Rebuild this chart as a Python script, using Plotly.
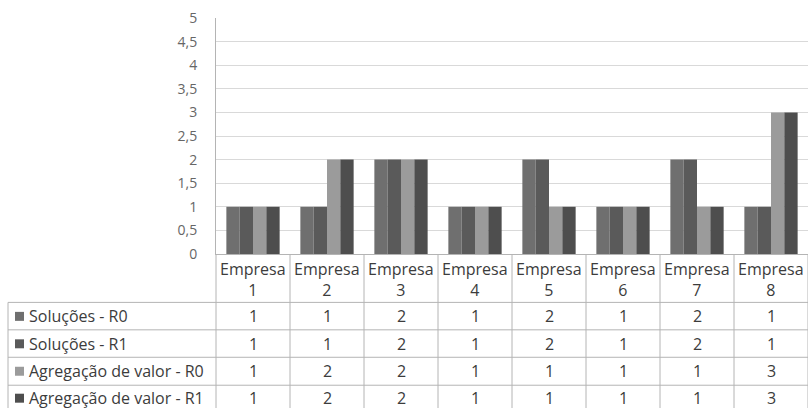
import plotly.graph_objects as go

# Companies and scores per indicator
categorias = ["Empresa<br>1", "Empresa<br>2", "Empresa<br>3", "Empresa<br>4",
              "Empresa<br>5", "Empresa<br>6", "Empresa<br>7", "Empresa<br>8"]
series_nomes = ["Soluções - R0", "Soluções - R1",
                "Agregação de valor - R0", "Agregação de valor - R1"]
solucoes_r0 = [1, 1, 2, 1, 2, 1, 2, 1]
solucoes_r1 = [1, 1, 2, 1, 2, 1, 2, 1]
agregacao_r0 = [1, 2, 2, 1, 1, 1, 1, 3]
agregacao_r1 = [1, 2, 2, 1, 1, 1, 1, 3]
cores = ["#6f6f6f", "#5a5a5a", "#9b9b9b", "#4e4e4e"]

valores = [solucoes_r0, solucoes_r1, agregacao_r0, agregacao_r1]

W, H = 808, 408
# plot area in pixels
L, R, T, B = 216, 808, 17.5, 254
PW, PH = R - L, B - T


def px(x):
    return (x - L) / PW


def py(y):
    return (B - y) / PH


FONT = "Open Sans"
TXT = "#3c3c3c"
LINE = "#b4b4b4"

fig = go.Figure()
idx = list(range(len(categorias)))
for nome, vals, cor in zip(series_nomes, valores, cores):
    fig.add_trace(go.Bar(x=idx, y=vals, name=nome, marker_color=cor,
                         marker_line_width=0, showlegend=False))

shapes = []
annotations = []

# data table grid
row_lines = [302.5, 330, 357.5, 385.5]
for yl in row_lines:
    shapes.append(dict(type="line", xref="paper", yref="paper",
                       x0=px(8), x1=px(808), y0=py(yl), y1=py(yl),
                       line=dict(color=LINE, width=1)))
shapes.append(dict(type="line", xref="paper", yref="paper",
                   x0=px(8), x1=px(8), y0=py(302.5), y1=py(410),
                   line=dict(color=LINE, width=1)))
for i in range(len(categorias) + 1):
    xb = L + i * PW / len(categorias)
    shapes.append(dict(type="line", xref="paper", yref="paper",
                       x0=px(xb), x1=px(xb), y0=py(B), y1=py(410),
                       line=dict(color=LINE, width=1)))

# header labels
for i, c in enumerate(categorias):
    annotations.append(dict(x=i, y=py(279.5), xref="x", yref="paper", text=c,
                            showarrow=False, xanchor="center", yanchor="middle",
                            font=dict(family=FONT, size=16, color=TXT)))

# rows: legend key, label and values
row_centers = [316.5, 344, 371.5, 398.5]
for r, (nome, vals, cor) in enumerate(zip(series_nomes, valores, cores)):
    yc = row_centers[r]
    shapes.append(dict(type="rect", xref="paper", yref="paper",
                       x0=px(15), x1=px(24), y0=py(yc - 4.5), y1=py(yc + 4.5),
                       fillcolor=cor, line=dict(width=0)))
    annotations.append(dict(x=px(27), y=py(yc), xref="paper", yref="paper",
                            text=nome, showarrow=False, xanchor="left",
                            yanchor="middle",
                            font=dict(family=FONT, size=16, color=TXT)))
    for i, v in enumerate(vals):
        annotations.append(dict(x=i, y=py(yc), xref="x", yref="paper",
                                text=str(v), showarrow=False, xanchor="center",
                                yanchor="middle",
                                font=dict(family=FONT, size=16, color=TXT)))

fig.update_layout(
    width=W, height=H,
    margin=dict(l=L, r=W - R, t=T, b=H - B, pad=0),
    paper_bgcolor="white", plot_bgcolor="white",
    barmode="group", bargap=0.28, bargroupgap=0,
    separators=",.",
    shapes=shapes, annotations=annotations,
    xaxis=dict(range=[-0.5, 7.5], showticklabels=False, showgrid=False,
               zeroline=False, showline=True, linecolor=LINE, linewidth=1,
               fixedrange=True),
    yaxis=dict(range=[0, 5], dtick=0.5, tick0=0, showgrid=True,
               gridcolor="#d9d9d9", gridwidth=1, zeroline=False,
               showline=True, linecolor=LINE, linewidth=1, ticks="",
               ticklabelstandoff=15,
               tickfont=dict(family=FONT, size=14, color="#666666")),
)

fig.write_html("out.html")
